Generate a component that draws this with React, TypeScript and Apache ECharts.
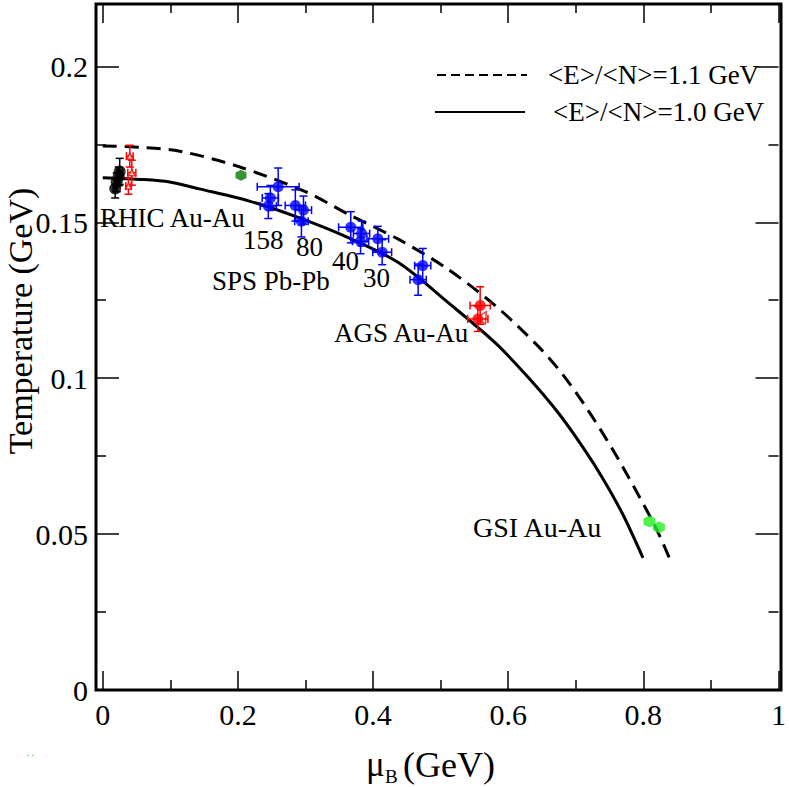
import React, { useEffect, useRef } from "react";
import * as echarts from "echarts";

// ---- axis ticks ----
const xMajorTicks = [0, 0.2, 0.4, 0.6, 0.8, 1];
const xMinorTicks = [0.1, 0.3, 0.5, 0.7, 0.9];
const yMajorTicks = [0, 0.05, 0.1, 0.15, 0.2];
const yMinorTicks = [0.025, 0.075, 0.125, 0.175];

// ---- freeze-out curves ----
const dashedMu = [0, 0.06, 0.114, 0.199, 0.3, 0.364, 0.438, 0.507, 0.5807, 0.6445, 0.6814, 0.7183, 0.7552, 0.7872, 0.819, 0.8388];
const dashedT = [0.1745, 0.174, 0.1728, 0.168, 0.1598, 0.1525, 0.1445, 0.1355, 0.1233, 0.1102, 0.101, 0.0897, 0.0769, 0.0647, 0.0518, 0.0422];
const solidMu = [0, 0.06, 0.099, 0.143, 0.217, 0.291, 0.364, 0.438, 0.512, 0.581, 0.6298, 0.674, 0.7109, 0.7404, 0.7699, 0.7994];
const solidT = [0.1643, 0.1637, 0.1629, 0.1607, 0.1568, 0.1514, 0.145, 0.137, 0.1241, 0.1113, 0.1002, 0.0889, 0.0777, 0.0677, 0.0562, 0.0424];

// ---- data points ----
const rhicBlackMu = [0.0184, 0.0206, 0.0236, 0.0251];
const rhicBlackT = [0.1608, 0.1628, 0.1647, 0.1663];
const rhicBlackErrMu = [0.003, 0.003, 0.003, 0.004];
const rhicBlackErrT = [0.003, 0.003, 0.003, 0.0042];

const rhicRedMu = [0.040, 0.043, 0.038];
const rhicRedT = [0.1712, 0.1659, 0.1616];
const rhicRedErrMu = [0.005, 0.006, 0.004];
const rhicRedErrT = [0.0035, 0.004, 0.0026];

const sisDarkMu = [0.2046];
const sisDarkT = [0.1651];

const spsMu = [0.2596, 0.248, 0.245, 0.285, 0.297, 0.294, 0.367, 0.383, 0.3815, 0.407, 0.4135, 0.4735, 0.4667];
const spsT = [0.1614, 0.1578, 0.1552, 0.1554, 0.1539, 0.1503, 0.1484, 0.1464, 0.1439, 0.1447, 0.1404, 0.1361, 0.1316];
const spsErrMu = [0.031, 0.012, 0.012, 0.015, 0.012, 0.01, 0.018, 0.012, 0.012, 0.016, 0.014, 0.012, 0.012];
const spsErrT = [0.006, 0.004, 0.004, 0.005, 0.0045, 0.005, 0.005, 0.004, 0.004, 0.004, 0.004, 0.0055, 0.005];

const agsMu = [0.5585, 0.555];
const agsT = [0.1233, 0.119];
const agsErrMu = [0.015, 0.015];
const agsErrT = [0.006, 0.004];
const agsOpenMu = [0.5634];
const agsOpenT = [0.1198];

const gsiMu = [0.809, 0.823];
const gsiT = [0.054, 0.0522];

const SERIF = '"Liberation Serif", "Times New Roman", serif';
const HEX = "path://M0,-1 L0.866,-0.5 L0.866,0.5 L0,1 L-0.866,0.5 L-0.866,-0.5 Z";

function pairs(a: number[], b: number[]) {
  return a.map((v, i) => [v, b[i]]);
}

function errorSeries(mu: number[], T: number[], eMu: number[], eT: number[], color: string) {
  return {
    type: "custom",
    xAxisIndex: 0,
    yAxisIndex: 0,
    z: 3,
    silent: true,
    data: mu.map((m, i) => [m, T[i], eMu[i], eT[i]]),
    encode: { x: 0, y: 1 },
    renderItem: (_params: any, api: any) => {
      const x = api.value(0);
      const y = api.value(1);
      const ex = api.value(2);
      const ey = api.value(3);
      const c = api.coord([x, y]);
      const top = api.coord([x, y + ey]);
      const bot = api.coord([x, y - ey]);
      const lft = api.coord([x - ex, y]);
      const rgt = api.coord([x + ex, y]);
      const cap = 4;
      const style = { stroke: color, lineWidth: 1.5 };
      return {
        type: "group",
        children: [
          { type: "line", shape: { x1: c[0], y1: top[1], x2: c[0], y2: bot[1] }, style },
          { type: "line", shape: { x1: c[0] - cap, y1: top[1], x2: c[0] + cap, y2: top[1] }, style },
          { type: "line", shape: { x1: c[0] - cap, y1: bot[1], x2: c[0] + cap, y2: bot[1] }, style },
          { type: "line", shape: { x1: lft[0], y1: c[1], x2: rgt[0], y2: c[1] }, style },
          { type: "line", shape: { x1: lft[0], y1: c[1] - cap, x2: lft[0], y2: c[1] + cap }, style },
          { type: "line", shape: { x1: rgt[0], y1: c[1] - cap, x2: rgt[0], y2: c[1] + cap }, style },
        ],
      };
    },
  };
}

function xAxisDef(position: string, values: number[], len: number, showLabel: boolean) {
  return {
    type: "value",
    position,
    min: -0.01,
    max: 1,
    splitLine: { show: false },
    axisLine: { show: false, onZero: false },
    axisTick: { show: true, inside: true, length: len, customValues: values, lineStyle: { color: "#000", width: 1.5 } },
    axisLabel: {
      show: showLabel,
      customValues: values,
      margin: 9,
      color: "#000",
      fontFamily: SERIF,
      fontSize: 30,
      formatter: (v: number) => (v === 0 ? "0" : v === 1 ? "1" : String(Math.round(v * 10) / 10)),
    },
  };
}

function yAxisDef(position: string, values: number[], len: number, showLabel: boolean) {
  return {
    type: "value",
    position,
    min: 0,
    max: 0.22,
    splitLine: { show: false },
    axisLine: { show: false, onZero: false },
    axisTick: { show: true, inside: true, length: len, customValues: values, lineStyle: { color: "#000", width: 1.5 } },
    axisLabel: {
      show: showLabel,
      customValues: values,
      margin: 8,
      color: "#000",
      fontFamily: SERIF,
      fontSize: 30,
      formatter: (v: number) => (v === 0 ? "0" : String(Math.round(v * 100) / 100)),
    },
  };
}

function txt(text: string, x: number, y: number, size: number, extra: any = {}) {
  return {
    type: "text",
    x,
    y,
    z: 10,
    style: {
      text,
      fill: "#000",
      font: `${size}px ${SERIF}`,
      align: "left",
      verticalAlign: "middle",
      ...extra,
    },
  };
}

export default function App() {
  const ref = useRef<HTMLDivElement>(null);
  useEffect(() => {
    document.body.style.margin = "0";
    if (!ref.current) return;
    const chart = echarts.init(ref.current, undefined, { renderer: "svg" });
    const option: any = {
      animation: false,
      backgroundColor: "#fff",
      grid: { left: 96, right: 8, top: 4, bottom: 97 },
      xAxis: [
        xAxisDef("bottom", xMajorTicks, 19, true),
        xAxisDef("bottom", xMinorTicks, 10, false),
        xAxisDef("top", xMajorTicks, 19, false),
        xAxisDef("top", xMinorTicks, 9, false),
      ],
      yAxis: [
        yAxisDef("left", yMajorTicks, 23, true),
        yAxisDef("left", yMinorTicks, 10, false),
        yAxisDef("right", yMajorTicks, 23, false),
        yAxisDef("right", yMinorTicks, 10, false),
      ],
      series: [
        {
          type: "line",
          data: pairs(dashedMu, dashedT),
          smooth: 0.3,
          showSymbol: false,
          silent: true,
          lineStyle: { color: "#000", width: 3, type: [14, 8] },
          z: 2,
        },
        {
          type: "line",
          data: pairs(solidMu, solidT),
          smooth: 0.3,
          showSymbol: false,
          silent: true,
          lineStyle: { color: "#000", width: 3 },
          z: 2,
        },
        errorSeries(rhicBlackMu, rhicBlackT, rhicBlackErrMu, rhicBlackErrT, "#000"),
        errorSeries(rhicRedMu, rhicRedT, rhicRedErrMu, rhicRedErrT, "#ff0000"),
        errorSeries(spsMu, spsT, spsErrMu, spsErrT, "#0000ff"),
        errorSeries(agsMu, agsT, agsErrMu, agsErrT, "#ff0000"),
        {
          type: "scatter",
          data: pairs(rhicBlackMu, rhicBlackT),
          symbol: "circle",
          symbolSize: 12,
          itemStyle: { color: "#000" },
          z: 4,
        },
        {
          type: "scatter",
          data: pairs(rhicRedMu, rhicRedT),
          symbol: "triangle",
          symbolSize: 6,
          itemStyle: { color: "#fff", borderColor: "#ff0000", borderWidth: 1.5 },
          z: 4,
        },
        {
          type: "scatter",
          data: pairs(sisDarkMu, sisDarkT),
          symbol: HEX,
          symbolSize: 11,
          itemStyle: { color: "#007a00" },
          z: 4,
        },
        {
          type: "scatter",
          data: pairs(spsMu, spsT),
          symbol: "circle",
          symbolSize: 11,
          itemStyle: { color: "#0000ff" },
          z: 4,
        },
        {
          type: "scatter",
          data: pairs(agsMu, agsT),
          symbol: "circle",
          symbolSize: 11,
          itemStyle: { color: "#ff0000" },
          z: 4,
        },
        {
          type: "scatter",
          data: pairs(agsOpenMu, agsOpenT),
          symbol: "triangle",
          symbolSize: 11,
          symbolRotate: -30,
          itemStyle: { color: "rgba(0,0,0,0)", borderColor: "#ff0000", borderWidth: 1.5 },
          z: 4,
        },
        {
          type: "scatter",
          data: pairs(gsiMu, gsiT),
          symbol: HEX,
          symbolSize: 12,
          itemStyle: { color: "#22ee22" },
          z: 4,
        },
      ],
      graphic: [
        // plot frame
        { type: "rect", z: 20, silent: true, shape: { x: 96, y: 4, width: 685, height: 686 }, style: { fill: "none", stroke: "#000", lineWidth: 3 } },
        // legend
        { type: "line", z: 10, shape: { x1: 437, y1: 75, x2: 527, y2: 75 }, style: { stroke: "#000", lineWidth: 2, lineDash: [9, 5] } },
        txt("<E>/<N>=1.1 GeV", 548, 75, 27),
        { type: "line", z: 10, shape: { x1: 435, y1: 112, x2: 525, y2: 112 }, style: { stroke: "#000", lineWidth: 2 } },
        txt("<E>/<N>=1.0 GeV", 553, 112, 27),
        // annotations
        txt("RHIC Au-Au", 100, 218, 27),
        txt("158", 243, 240, 27),
        txt("80", 296, 247, 27),
        txt("40", 332, 261, 27),
        txt("30", 363, 278, 27),
        txt("SPS Pb-Pb", 212, 281, 27),
        txt("AGS Au-Au", 334, 333, 27),
        txt("GSI Au-Au", 473, 527, 28),
        // axis names
        {
          type: "text",
          x: 20,
          y: 321,
          rotation: Math.PI / 2,
          z: 10,
          style: { text: "Temperature (GeV)", fill: "#000", font: `34px ${SERIF}`, align: "center", verticalAlign: "middle" },
        },
        txt("μ", 366, 764, 35),
        txt("B", 385, 776, 19),
        txt("(GeV)", 403, 765, 36),
        // tiny artifact dots
        { type: "rect", shape: { x: 27, y: 755, width: 2, height: 1 }, style: { fill: "#66ee66" } },
        { type: "rect", shape: { x: 32, y: 755, width: 2, height: 1 }, style: { fill: "#66ee66" } },
      ],
    };
    chart.setOption(option);
    return () => chart.dispose();
  }, []);
  return <div ref={ref} style={{ width: 789, height: 787, position: "absolute", left: 0, top: 0 }} />;
}
